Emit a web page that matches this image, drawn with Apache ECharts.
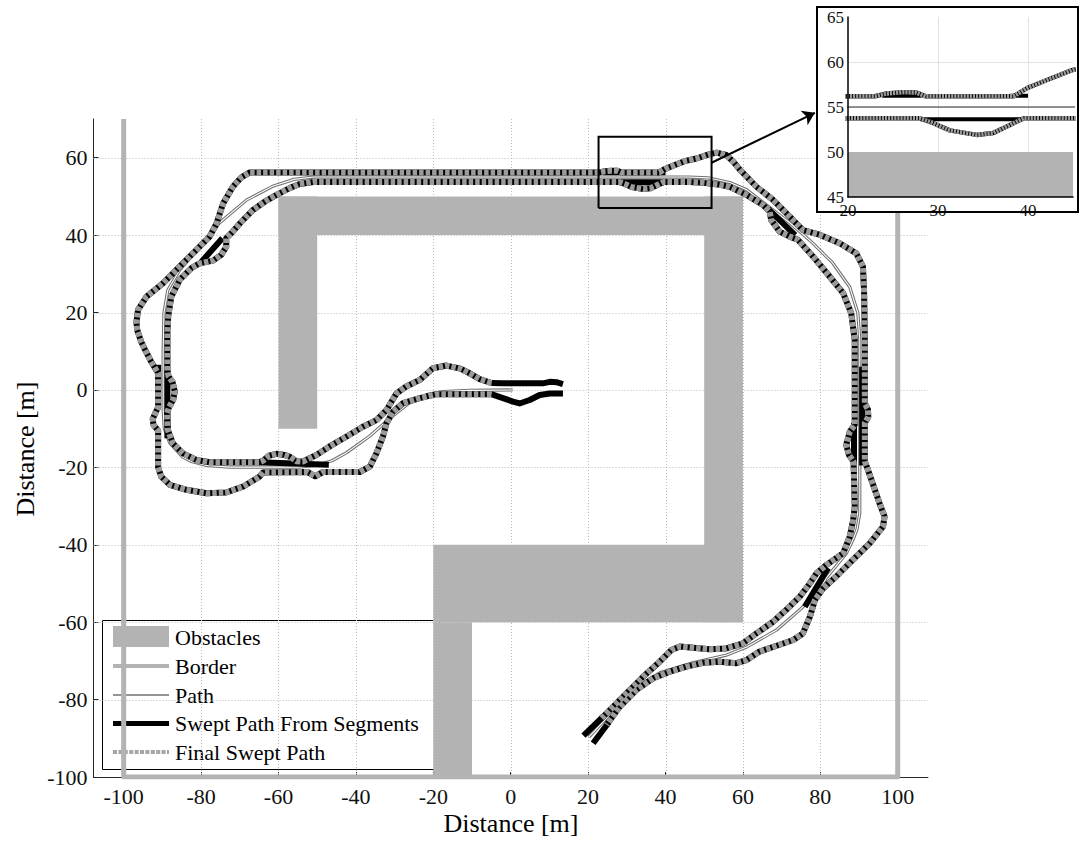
<!DOCTYPE html>
<html>
<head>
<meta charset="utf-8">
<title>Swept path</title>
<script src="https://cdn.jsdelivr.net/npm/echarts@6/dist/echarts.min.js"></script>
<style>
  html, body { margin: 0; padding: 0; background: #ffffff; }
  #chart { width: 1080px; height: 843px; }
</style>
</head>
<body>
<div id="chart"></div>
<script>
// ---------- data (metres) ----------
const xTicks = [-100, -80, -60, -40, -20, 0, 20, 40, 60, 80, 100];
const yTicks = [-100, -80, -60, -40, -20, 0, 20, 40, 60];
const insetXTicks = [20, 30, 40];
const insetYTicks = [45, 50, 55, 60, 65];

// obstacle rectangles: [xMin, yMin, xMax, yMax]
const obstacles = [
  [-60, -10, -50, 50],
  [-60, 40, 60, 50],
  [50, -60, 60, 50],
  [-20, -60, 60, -40],
  [-20, -100, -10, -60]
];

// outer border of the area
const border = [[-100, 70], [-100, -100], [100, -100], [100, 70]];

// planned centre-line path
const path = [
  [0.5, 0], [-10.6, -0.1], [-17.6, -0.4], [-21.7, -1.2], [-26, -3.2], [-31.3, -7.4],
  [-36.4, -11.9], [-42.4, -16.2], [-46.2, -18.3], [-50.3, -19.5], [-55, -19.95],
  [-72.6, -19.95], [-78.6, -19.5], [-82.5, -18.5], [-84.8, -17.3], [-88.1, -13.7],
  [-89.5, -10], [-89.8, -5], [-89.8, 10], [-89.6, 19.9], [-88.6, 25.8], [-85.5, 31],
  [-80.4, 37], [-75.2, 43.2], [-68.2, 49.1], [-61.5, 52.6], [-56, 54.4], [-51, 55],
  [46, 55], [51, 54.8], [56.6, 53.6], [61, 51.7], [66.1, 47.8], [72.1, 43.2], [78, 38],
  [83.2, 32.8], [87.6, 26.6], [89.7, 19.9], [90.2, 12.9], [90.2, -31.8], [89.5, -36],
  [88.4, -38.8], [86.8, -42.1], [84.5, -45], [81.6, -48.5], [79.8, -51.5], [77, -54.5],
  [74.7, -56.8], [68.7, -62], [61, -66.4], [55.8, -68.5], [47, -70.5], [38.5, -73.1],
  [34, -75.8], [30, -79.3], [25, -84.5], [20.2, -89.7]
];

// final swept path, inner edge (right-hand side of the vehicle)
const sweptInner = [
  [-5, 1.8], [-8, 2.8], [-10.6, 4.3], [-13, 5.5], [-16.6, 6.3], [-20.1, 5.6], [-23.5, 2.6],
  [-27, 0.9], [-29.5, -0.9], [-32.1, -5.2], [-34.7, -7.8], [-38.2, -9.5], [-42.5, -12.1],
  [-46.8, -14.6], [-50.2, -16.8], [-53.7, -18.5], [-55.4, -18.4], [-57, -17.3],
  [-58.5, -16.8], [-60.5, -16.5], [-62.5, -17], [-64, -18.3], [-65, -18.7], [-77.8, -18.7],
  [-81.2, -18.1], [-84.7, -16.4], [-87.3, -13.8], [-88.6, -10.3], [-88.8, -6],
  [-88.3, -4.5], [-87.2, -2.5], [-86.8, -0.4], [-87.4, 2.1], [-88.4, 3.5], [-88.7, 5],
  [-88.7, 15], [-88.5, 19], [-87.7, 24.1], [-85.5, 28.5], [-82.5, 31.5], [-80.4, 32.7],
  [-76.9, 33.4], [-74.8, 34.9], [-73.5, 37], [-73.5, 39.2], [-72.2, 40.5], [-70, 43],
  [-66.6, 46.5], [-63, 49], [-60.5, 50.4], [-57, 52.2], [-54.5, 53.2], [-51, 53.74],
  [28, 53.74], [29.5, 53.2], [31.3, 52.4], [34.3, 51.9], [36.1, 52.1], [38, 53],
  [39.5, 53.74], [46, 53.74], [50, 53.5], [53.5, 53.1], [56.6, 52.5], [60.9, 50.4],
  [65.2, 47.8], [66.9, 46.1], [67.3, 43.9], [69.5, 40.9], [72.1, 39.6], [74.2, 38.8],
  [78.1, 34.5], [82.4, 29.3], [85.9, 25], [88, 19.8], [88.9, 12.9], [88.9, -9],
  [87.6, -10.8], [86.7, -14.2], [87.4, -16.8], [88.6, -18.5], [88.9, -30.2],
  [88.5, -33.6], [87.6, -37.9], [85.9, -42.2], [81.6, -45.2], [79, -47.4], [77.3, -50],
  [74.7, -53.4], [71.2, -56.8], [67.8, -59.9], [63.5, -62.9], [60, -65.5], [55.7, -66.8],
  [51.4, -67], [47.1, -66.6], [43.7, -66.3], [41.5, -67.2], [38.5, -70.2], [34.2, -74.1],
  [29.9, -78.4], [25.6, -82.7], [23.5, -84.8]
];

// final swept path, outer edge (left-hand side of the vehicle)
const sweptOuter = [
  [-5, -1.1], [-10, -1.1], [-19.2, -1.1], [-23.5, -2.1], [-27.8, -3.4], [-30.4, -5.6],
  [-32.1, -8.6], [-33, -12], [-34.7, -16.4], [-36.4, -19.8], [-39, -21.2], [-48.5, -21.2],
  [-50.5, -22.3], [-52.5, -21.2], [-64, -21.3], [-64.9, -22.4], [-69.2, -25],
  [-73.5, -26.5], [-78.6, -26.7], [-83.8, -25.8], [-88.1, -24.5], [-90.3, -22.4],
  [-91.1, -20], [-91.1, -10.5], [-92.3, -9], [-92.5, -7.5], [-91.6, -5.5], [-91.1, -4.5],
  [-91.1, 4.3], [-93, 7.5], [-94.3, 10], [-95.5, 12.5], [-96.5, 15.5], [-96.7, 17.5],
  [-96.3, 20.7], [-94.1, 24.1], [-89.8, 27.6], [-85.5, 31.9], [-81.2, 36.2],
  [-77.8, 39.6], [-76, 43], [-74.3, 48.2], [-71.8, 52.5], [-69.5, 55], [-67.4, 56.2],
  [23, 56.2], [24.3, 56.5], [26.1, 56.65], [27.6, 56.6], [28.6, 56.2], [38.4, 56.2],
  [39.9, 57.1], [42.1, 58], [44.9, 59.1], [48, 59.8], [51, 60.8], [53.2, 61.3],
  [55.7, 60.7], [57.5, 59], [59.2, 56.9], [63.5, 52.5], [67.8, 49.1], [72.1, 44.8],
  [75.5, 41.3], [79.8, 40.1], [85, 37.9], [89.3, 35.3], [91, 31.9], [91.3, 25.8],
  [91.5, 12.9], [91.5, -3.5], [92.3, -5], [92.4, -7], [91.5, -8.5], [91.5, -18.5],
  [92, -19.8], [95.3, -29.3], [96.6, -32.7], [96.2, -35.3], [92.8, -39.6], [88.4, -43.9],
  [84.1, -48.2], [80.7, -51.3], [78.6, -54.3], [77.3, -58.6], [75.5, -62.9], [73, -64.6],
  [68.7, -66.1], [64.3, -67.6], [60.9, -69.8], [58.3, -70.6], [54, -70.2], [49.7, -70.5],
  [45.4, -71.5], [41.1, -72.8], [36.8, -74.5], [32.5, -77.5], [28.2, -81.8], [24.8, -86.5]
];

// parts of the segment-wise swept path that the final path does not cover
const segmentPieces = [
  [[-5, 1.8], [-2, 1.7], [8.3, 1.7], [10.1, 2.1], [11.8, 2], [13.5, 1.5]],
  [[-5, -1.1], [-2, -2.1], [0.6, -3], [2.3, -3.5], [4.9, -2.6], [7.5, -1.3], [10.1, -0.9], [13.5, -0.9]],
  [[-65, -18.7], [-47, -19.3]],
  [[-88.7, 5], [-88.7, -12.5]],
  [[-91.1, 0], [-91.1, 6.5]],
  [[-80, 33], [-74.5, 39.2]],
  [[23.8, 56.25], [28.2, 56.25]],
  [[38, 56.25], [40, 56.25]],
  [[28, 53.65], [39.5, 53.65]],
  [[66.5, 46.8], [73.5, 40]],
  [[90.8, 6], [90.8, -19.5]],
  [[88.7, -8.5], [88.7, -19]],
  [[82, -46], [76, -56]],
  [[24, -84.3], [18.8, -89.3]],
  [[25.3, -85.9], [21.3, -91.3]]
];

// magnified region outline and pointer to the detail view
const zoomBox = [[22.7, 47], [51.9, 47], [51.9, 65.4], [22.7, 65.4], [22.7, 47]];
const zoomArrow = [[51.9, 58.7], [78.6, 71.6]];

// ---------- styles ----------
const FONT = '"Liberation Serif", "Times New Roman", serif';
const OBST = '#b3b3b3';
const SWEPT = '#9a9a9a';
const INSET_Z = 10;

const chart = echarts.init(document.getElementById('chart'), null, { renderer: 'svg' });

function obstacleSeries(idx, z) {
  return {
    type: 'custom', xAxisIndex: idx, yAxisIndex: idx, silent: true, z,
    data: obstacles, encode: { x: [0, 2], y: [1, 3] },
    renderItem(params, api) {
      const a = api.coord([api.value(0), api.value(3)]);
      const b = api.coord([api.value(2), api.value(1)]);
      const cs = params.coordSys;
      const shape = echarts.graphic.clipRectByRect(
        { x: a[0], y: a[1], width: b[0] - a[0], height: b[1] - a[1] },
        { x: cs.x, y: cs.y, width: cs.width, height: cs.height }
      );
      return shape && { type: 'rect', shape, style: { fill: OBST } };
    }
  };
}

function gridLineSeries(idx, ticks, vertical, style, z) {
  return {
    type: 'custom', xAxisIndex: idx, yAxisIndex: idx, silent: true, z,
    data: ticks.map(v => [v]), encode: vertical ? { x: 0 } : { y: 0 },
    renderItem(params, api) {
      const cs = params.coordSys;
      if (vertical) {
        const x = Math.round(api.coord([api.value(0), 0])[0]) + 0.5;
        return { type: 'line', shape: { x1: x, y1: cs.y, x2: x, y2: cs.y + cs.height }, style };
      }
      const y = Math.round(api.coord([0, api.value(0)])[1]) + 0.5;
      return { type: 'line', shape: { x1: cs.x, y1: y, x2: cs.x + cs.width, y2: y }, style };
    }
  };
}

function lineSeries(idx, data, color, width, z, extra) {
  return Object.assign({
    type: 'line', xAxisIndex: idx, yAxisIndex: idx, data, z,
    symbol: 'none', silent: true, animation: false,
    lineStyle: { color, width, cap: 'butt', join: 'round' }
  }, extra || {});
}

function plotSeries(idx, s) {
  const z = s.z;
  const list = [obstacleSeries(idx, z)];
  if (idx === 0) list.push(lineSeries(idx, border, OBST, 5, z));
  list.push(lineSeries(idx, path, '#707070', s.pathW, z));
  if (s.pathInner) list.push(lineSeries(idx, path, '#ffffff', s.pathInner, z));
  segmentPieces.forEach(p => list.push(lineSeries(idx, p, '#000000', s.segW, z)));
  [sweptInner, sweptOuter].forEach(p => list.push(lineSeries(idx, p, '#000000', s.sweptW, z)));
  [sweptInner, sweptOuter].forEach(p => list.push(lineSeries(idx, p, SWEPT, s.sweptW, z, {
    lineStyle: { color: SWEPT, width: s.sweptW, type: s.dash, cap: 'butt', join: 'round' }
  })));
  return list;
}

const mainGrid = { left: 93.5, top: 119, width: 834.4, height: 658 };
const insetGrid = { left: 848, top: 17, width: 225, height: 180 };

const axisBase = {
  type: 'value', splitLine: { show: false },
  axisLine: { show: true, onZero: false, lineStyle: { color: '#262626', width: 1 } }
};

const option = {
  backgroundColor: '#ffffff',
  animation: false,
  grid: [
    Object.assign({ containLabel: false }, mainGrid),
    Object.assign({ containLabel: false }, insetGrid)
  ],
  xAxis: [
    Object.assign({}, axisBase, {
      gridIndex: 0, min: -107.8, max: 107.8,
      axisTick: { show: true, inside: true, length: 5, customValues: xTicks, lineStyle: { color: '#262626' } },
      axisLabel: { customValues: xTicks, margin: 8, fontFamily: FONT, fontSize: 22, color: '#111' }
    }),
    Object.assign({}, axisBase, {
      gridIndex: 1, min: 20, max: 45, z: INSET_Z + 2,
      axisLine: { show: true, onZero: false, lineStyle: { color: '#000', width: 1.5 } },
      axisTick: { show: false },
      axisLabel: { customValues: insetXTicks, margin: 5, fontFamily: FONT, fontSize: 17, color: '#111' }
    })
  ],
  yAxis: [
    Object.assign({}, axisBase, {
      gridIndex: 0, min: -100, max: 70,
      axisTick: { show: true, inside: true, length: 5, customValues: yTicks, lineStyle: { color: '#262626' } },
      axisLabel: { customValues: yTicks, margin: 6, fontFamily: FONT, fontSize: 22, color: '#111' }
    }),
    Object.assign({}, axisBase, {
      gridIndex: 1, min: 45, max: 65, z: INSET_Z + 2,
      axisLine: { show: true, onZero: false, lineStyle: { color: '#000', width: 1.5 } },
      axisTick: { show: false },
      axisLabel: { customValues: insetYTicks, margin: 4, fontFamily: FONT, fontSize: 17, color: '#111' }
    })
  ],
  series: [
    gridLineSeries(0, xTicks.filter(v => v > -107.8), true, { stroke: '#bdbdbd', lineWidth: 1, lineDash: [1, 2] }, 1),
    gridLineSeries(0, yTicks.filter(v => v > -100), false, { stroke: '#bdbdbd', lineWidth: 1, lineDash: [1, 2] }, 1),
    gridLineSeries(1, insetXTicks.filter(v => v > 20 && v < 45), true, { stroke: '#e2e2e2', lineWidth: 1 }, INSET_Z),
    gridLineSeries(1, insetYTicks.filter(v => v > 45 && v < 65), false, { stroke: '#e2e2e2', lineWidth: 1 }, INSET_Z),
    ...plotSeries(0, { z: 2, pathW: 3.2, pathInner: 1.1, segW: 6, sweptW: 6, dash: [4.5, 2] }),
    ...plotSeries(1, { z: INSET_Z, pathW: 1.3, pathInner: 0, segW: 4, sweptW: 4.5, dash: [2.2, 0.9] }),
    lineSeries(0, zoomBox, '#000000', 2, 3, { clip: false, lineStyle: { color: '#000', width: 2, join: 'miter' } }),
    {
      type: 'lines', coordinateSystem: 'cartesian2d', xAxisIndex: 0, yAxisIndex: 0, z: 3,
      clip: false, silent: true, symbol: ['none', 'arrow'], symbolSize: 12,
      lineStyle: { color: '#000', width: 2, opacity: 1 },
      data: [{ coords: zoomArrow }]
    }
  ],
  graphic: [
    // detail view background, hides the main plot underneath
    { type: 'rect', z: 5, shape: { x: 817, y: 7, width: 261, height: 205 },
      style: { fill: '#ffffff' } },
    // detail view frame
    { type: 'rect', z: 50, shape: { x: 817, y: 7, width: 261, height: 205 },
      style: { fill: 'none', stroke: '#000', lineWidth: 2 } },
    // axis titles
    { type: 'text', z: 50, x: 511, y: 823,
      style: { text: 'Distance [m]', font: '26px ' + FONT, fill: '#000', align: 'center', verticalAlign: 'middle' } },
    { type: 'text', z: 50, x: 25, y: 449, rotation: Math.PI / 2,
      style: { text: 'Distance [m]', font: '26px ' + FONT, fill: '#000', align: 'center', verticalAlign: 'middle' } },
    // legend
    { type: 'group', z: 60, children: [
      { type: 'rect', shape: { x: 102.5, y: 620.5, width: 337, height: 149 },
        style: { fill: '#fff', stroke: '#000', lineWidth: 1 } },
      { type: 'rect', shape: { x: 113, y: 626, width: 56, height: 21 }, style: { fill: OBST } },
      { type: 'line', shape: { x1: 113, y1: 666, x2: 169, y2: 666 }, style: { stroke: OBST, lineWidth: 4 } },
      { type: 'line', shape: { x1: 113, y1: 695, x2: 169, y2: 695 }, style: { stroke: '#707070', lineWidth: 1.3 } },
      { type: 'line', shape: { x1: 113, y1: 723.5, x2: 169, y2: 723.5 }, style: { stroke: '#000', lineWidth: 5 } },
      { type: 'line', shape: { x1: 113, y1: 752, x2: 169, y2: 752 }, style: { stroke: '#a6a6a6', lineWidth: 4, lineDash: [4, 1.4] } },
      { type: 'text', x: 175, y: 637, style: { text: 'Obstacles', font: '22px ' + FONT, fill: '#000', verticalAlign: 'middle' } },
      { type: 'text', x: 175, y: 666, style: { text: 'Border', font: '22px ' + FONT, fill: '#000', verticalAlign: 'middle' } },
      { type: 'text', x: 175, y: 695, style: { text: 'Path', font: '22px ' + FONT, fill: '#000', verticalAlign: 'middle' } },
      { type: 'text', x: 175, y: 723, style: { text: 'Swept Path From Segments', font: '22px ' + FONT, fill: '#000', verticalAlign: 'middle' } },
      { type: 'text', x: 175, y: 752, style: { text: 'Final Swept Path', font: '22px ' + FONT, fill: '#000', verticalAlign: 'middle' } }
    ] }
  ]
};

chart.setOption(option);
</script>
</body>
</html>
